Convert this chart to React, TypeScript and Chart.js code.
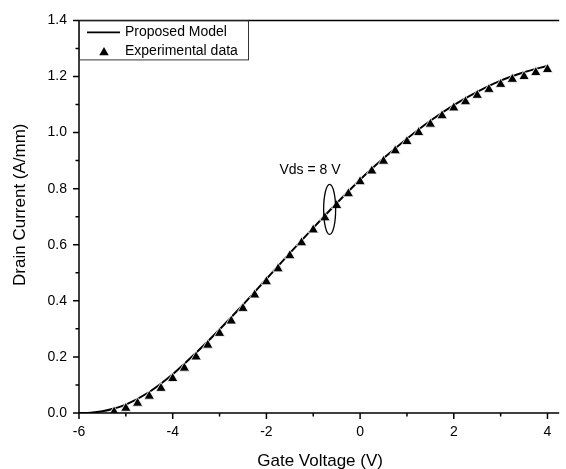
import { useEffect, useRef } from "react";
import { Chart, registerables } from "chart.js";

Chart.register(...registerables);

// ---- Data ----
const seriesLabels = ["Proposed Model", "Experimental data"];

const gateVoltageModel = [
  -6, -5.75, -5.5, -5.25, -5, -4.5, -4, -3.5, -3, -2.5, -2, -1.5, -1, -0.5, 0, 0.5, 1, 1.5, 2, 2.5, 3, 3.5, 4,
];
const drainCurrentModel = [
  0, 0.001, 0.006, 0.016, 0.03, 0.075, 0.138, 0.215, 0.298, 0.386, 0.478, 0.57, 0.66, 0.748, 0.832, 0.908,
  0.978, 1.042, 1.098, 1.145, 1.185, 1.215, 1.238,
];

const gateVoltageExp = [
  -5.25, -5, -4.75, -4.5, -4.25, -4, -3.75, -3.5, -3.25, -3, -2.75, -2.5, -2.25, -2, -1.75, -1.5, -1.25, -1,
  -0.75, -0.5, -0.25, 0, 0.25, 0.5, 0.75, 1, 1.25, 1.5, 1.75, 2, 2.25, 2.5, 2.75, 3, 3.25, 3.5, 3.75, 4,
];
const drainCurrentExp = [
  0.004, 0.017, 0.035, 0.06, 0.088, 0.123, 0.16, 0.2, 0.242, 0.284, 0.328, 0.373, 0.421, 0.468, 0.514, 0.561,
  0.607, 0.653, 0.696, 0.74, 0.782, 0.825, 0.863, 0.898, 0.935, 0.968, 1.0, 1.03, 1.06, 1.088, 1.11, 1.133,
  1.154, 1.172, 1.19, 1.2, 1.214, 1.225,
];

const xMajorTicks = [-6, -4, -2, 0, 2, 4];
const xMinorTicks = [-5, -3, -1, 1, 3];
const yMajorTicks = [0, 0.2, 0.4, 0.6, 0.8, 1.0, 1.2, 1.4];
const yMinorTicks = [0.1, 0.3, 0.5, 0.7, 0.9, 1.1, 1.3];

const xAxisTitle = "Gate Voltage (V)";
const yAxisTitle = "Drain Current (A/mm)";
const annotationText = "Vds = 8 V";
const annotationTextAt = { x: -1.07, y: 0.866 };
const annotationEllipseAt = { x: -0.65, y: 0.726 };

const FONT = "'Liberation Sans', Arial, Helvetica, sans-serif";

function drawTriangle(ctx: CanvasRenderingContext2D, x: number, y: number, r: number) {
  let rad = 0;
  ctx.beginPath();
  ctx.moveTo(x + Math.sin(rad) * r, y - Math.cos(rad) * r);
  rad += (2 * Math.PI) / 3;
  ctx.lineTo(x + Math.sin(rad) * r, y - Math.cos(rad) * r);
  rad += (2 * Math.PI) / 3;
  ctx.lineTo(x + Math.sin(rad) * r, y - Math.cos(rad) * r);
  ctx.closePath();
  ctx.fill();
}

const decorPlugin = {
  id: "decor",
  afterDraw(chart: any) {
    const { ctx, chartArea, scales } = chart;
    const { left, right, top, bottom } = chartArea;
    const x = scales.x;
    const y = scales.y;
    ctx.save();

    // frame
    ctx.strokeStyle = "#000";
    ctx.lineWidth = 1.5;
    ctx.beginPath();
    ctx.moveTo(left, top);
    ctx.lineTo(right, top);
    ctx.moveTo(left, top);
    ctx.lineTo(left, bottom);
    ctx.lineTo(right, bottom);
    // ticks
    xMajorTicks.forEach((v) => {
      const px = x.getPixelForValue(v);
      ctx.moveTo(px, bottom);
      ctx.lineTo(px, bottom + 6);
    });
    xMinorTicks.forEach((v) => {
      const px = x.getPixelForValue(v);
      ctx.moveTo(px, bottom);
      ctx.lineTo(px, bottom + 3.5);
    });
    yMajorTicks.forEach((v) => {
      const py = y.getPixelForValue(v);
      ctx.moveTo(left, py);
      ctx.lineTo(left - 6, py);
    });
    yMinorTicks.forEach((v) => {
      const py = y.getPixelForValue(v);
      ctx.moveTo(left, py);
      ctx.lineTo(left - 3.5, py);
    });
    ctx.stroke();

    // legend box
    const lx = left;
    const ly = top;
    const lw = 169;
    const lh = 39;
    ctx.fillStyle = "#fff";
    ctx.fillRect(lx + 0.5, ly + 0.75, lw - 1, lh - 1);
    ctx.lineWidth = 1;
    ctx.strokeStyle = "#333";
    ctx.strokeRect(lx + 0.5, ly + 0.5, lw, lh);
    ctx.strokeStyle = "#000";
    ctx.lineWidth = 1.6;
    ctx.beginPath();
    ctx.moveTo(lx + 8, ly + 12);
    ctx.lineTo(lx + 41, ly + 12);
    ctx.stroke();
    ctx.fillStyle = "#000";
    drawTriangle(ctx, lx + 25, ly + 32, 5.5);
    ctx.font = `14px ${FONT}`;
    ctx.textAlign = "left";
    ctx.textBaseline = "middle";
    ctx.fillText(chart.data.datasets[0].label, lx + 46, ly + 12);
    ctx.fillText(chart.data.datasets[1].label, lx + 46, ly + 31);

    // annotation
    ctx.font = `14px ${FONT}`;
    ctx.textAlign = "center";
    ctx.textBaseline = "middle";
    ctx.fillText(annotationText, x.getPixelForValue(annotationTextAt.x), y.getPixelForValue(annotationTextAt.y));
    ctx.lineWidth = 1.3;
    ctx.beginPath();
    ctx.ellipse(
      x.getPixelForValue(annotationEllipseAt.x),
      y.getPixelForValue(annotationEllipseAt.y),
      6,
      25,
      0,
      0,
      Math.PI * 2
    );
    ctx.stroke();

    // axis titles
    ctx.font = `17px ${FONT}`;
    ctx.textAlign = "center";
    ctx.textBaseline = "alphabetic";
    ctx.fillText(xAxisTitle, (left + right) / 2 + 1, 466);
    ctx.translate(25, (top + bottom) / 2 - 12);
    ctx.rotate(-Math.PI / 2);
    ctx.fillText(yAxisTitle, 0, 0);
    ctx.restore();
  },
};

export default function App() {
  const canvasRef = useRef<HTMLCanvasElement | null>(null);

  useEffect(() => {
    document.body.style.margin = "0";
    const canvas = canvasRef.current;
    if (!canvas) return;
    const chart = new Chart(canvas, {
      type: "scatter",
      data: {
        datasets: [
          {
            label: seriesLabels[0],
            data: gateVoltageModel.map((v, i) => ({ x: v, y: drainCurrentModel[i] })),
            showLine: true,
            borderColor: "#000",
            borderWidth: 2,
            pointRadius: 0,
            cubicInterpolationMode: "monotone",
            order: 1,
          },
          {
            label: seriesLabels[1],
            data: gateVoltageExp.map((v, i) => ({ x: v, y: drainCurrentExp[i] })),
            showLine: false,
            pointStyle: "triangle",
            pointRadius: 6,
            pointBackgroundColor: "#000",
            pointBorderColor: "#fff",
            pointBorderWidth: 0.8,
            clip: 0,
            order: 0,
          },
        ],
      },
      options: {
        animation: false,
        responsive: false,
        layout: { padding: { top: 16, right: 0, left: 0, bottom: 0 } },
        plugins: { legend: { display: false }, tooltip: { enabled: false } },
        scales: {
          x: {
            type: "linear",
            min: -6,
            max: 4.25,
            grid: { display: false, drawTicks: false },
            border: { display: false },
            ticks: {
              color: "#000",
              font: { size: 14, family: FONT },
              padding: 11,
              callback: (v: any) => String(v),
            },
            afterBuildTicks: (s: any) => {
              s.ticks = xMajorTicks.map((v) => ({ value: v }));
            },
            afterFit: (s: any) => {
              s.height = 56;
            },
          },
          y: {
            type: "linear",
            min: 0,
            max: 1.4,
            grid: { display: false, drawTicks: false },
            border: { display: false },
            ticks: {
              color: "#000",
              font: { size: 14, family: FONT },
              padding: 12,
              callback: (v: any) => Number(v).toFixed(1),
            },
            afterBuildTicks: (s: any) => {
              s.ticks = yMajorTicks.map((v) => ({ value: v }));
            },
            afterFit: (s: any) => {
              s.width = 79;
            },
          },
        },
      },
      plugins: [decorPlugin],
    });
    return () => chart.destroy();
  }, []);

  return (
    <div style={{ width: 566, height: 469 }}>
      <canvas ref={canvasRef} width={566} height={469} style={{ display: "block", width: 566, height: 469 }} />
    </div>
  );
}
